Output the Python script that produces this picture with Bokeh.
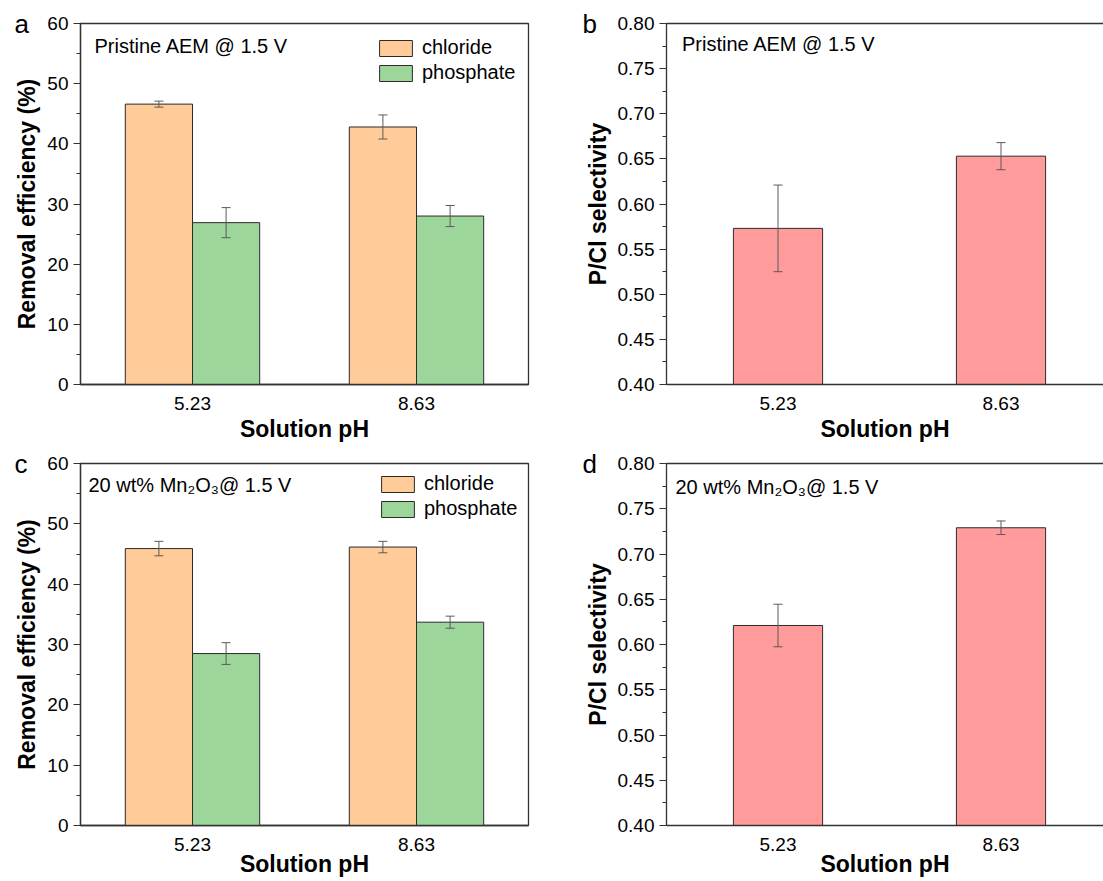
from bokeh.plotting import figure
from bokeh.models import (ColumnDataSource, Whisker, TeeHead, Label, Range1d, LinearAxis,
                          FixedTicker, SingleIntervalTicker, NumeralTickFormatter)
from bokeh.layouts import column, row
from bokeh.embed import file_html
from bokeh.resources import INLINE

# ---------------- data ----------------
categories = ["5.23", "8.63"]
series_names = ["chloride", "phosphate"]

a_chloride = [46.6, 42.8]
a_chloride_err = [0.5, 2.0]
a_phosphate = [26.9, 28.0]
a_phosphate_err = [2.5, 1.75]

b_selectivity = [0.573, 0.653]
b_selectivity_err = [0.048, 0.015]

c_chloride = [45.9, 46.15]
c_chloride_err = [1.2, 0.95]
c_phosphate = [28.5, 33.7]
c_phosphate_err = [1.8, 1.0]

d_selectivity = [0.621, 0.729]
d_selectivity_err = [0.0235, 0.0075]

note_top = "Pristine AEM @ 1.5 V"
note_bottom = "20 wt% Mn\u2082O\u2083@ 1.5 V"
xlabel = "Solution pH"

# ---------------- style ----------------
FONT = "Liberation Sans"
ORANGE = "#FFCC99"
GREEN = "#9CD69B"
PINK = "#FF9B9B"
EDGE = "#2b2b2b"
ERR = "#5a5a5a"
FRAME = "#333333"

centers = [i + 0.5 for i in range(len(categories))]


def style_axes(p, ylabel, interval, fmt=None, xlabel_standoff=3):
    p.xgrid.visible = False
    p.ygrid.visible = False
    xa = p.xaxis[0]
    xa.ticker = FixedTicker(ticks=centers)
    xa.major_label_overrides = {c: lab for c, lab in zip(centers, categories)}
    xa.major_tick_out = 0
    xa.major_tick_in = 0
    xa.minor_tick_out = 0
    xa.minor_tick_in = 0
    xa.major_label_standoff = 12
    xa.major_label_text_font = FONT
    xa.major_label_text_font_size = "19px"
    xa.major_label_text_color = "black"
    xa.axis_line_color = FRAME
    xa.axis_line_width = 1.3
    xa.axis_label = xlabel
    xa.axis_label_text_font = FONT
    xa.axis_label_text_font_size = "23px"
    xa.axis_label_text_font_style = "bold"
    xa.axis_label_text_color = "black"
    xa.axis_label_standoff = xlabel_standoff

    ya = p.yaxis[0]
    ya.ticker = SingleIntervalTicker(interval=interval, num_minor_ticks=2)
    if fmt:
        ya.formatter = NumeralTickFormatter(format=fmt)
    ya.major_tick_out = 7
    ya.major_tick_in = 0
    ya.minor_tick_out = 4
    ya.minor_tick_in = 0
    ya.major_tick_line_color = FRAME
    ya.minor_tick_line_color = FRAME
    ya.major_label_standoff = 5
    ya.major_label_text_font = FONT
    ya.major_label_text_font_size = "19px"
    ya.major_label_text_color = "black"
    ya.axis_label = ylabel
    ya.axis_label_text_font = FONT
    ya.axis_label_text_font_size = "23px"
    ya.axis_label_text_font_style = "bold"
    ya.axis_label_text_color = "black"
    ya.axis_label_standoff = 4
    ya.axis_line_color = FRAME
    ya.axis_line_width = 1.3


def set_letter(p, letter, offset):
    t = p.title
    t.text = letter
    t.align = "left"
    t.offset = offset
    t.vertical_align = "bottom"
    t.text_font = FONT
    t.text_font_size = "26px"
    t.text_font_style = "normal"
    t.text_color = "black"
    try:
        t.standoff = -31
    except Exception:
        t.standoff = 0


def add_text(p, text, x, y, size):
    p.add_layout(Label(x=x, y=y, x_units="screen", y_units="screen", text=text,
                       text_font=FONT, text_font_size=size,
                       text_align="left", text_baseline="alphabetic",
                       text_color="black"))


def add_err(p, xs, vals, errs):
    src = ColumnDataSource(dict(x=xs,
                                upper=[v + e for v, e in zip(vals, errs)],
                                lower=[v - e for v, e in zip(vals, errs)]))
    w = Whisker(base="x", upper="upper", lower="lower", source=src,
                line_color=ERR, line_width=1, level="overlay",
                upper_head=TeeHead(size=9, line_color=ERR, line_width=1),
                lower_head=TeeHead(size=9, line_color=ERR, line_width=1))
    p.add_layout(w)


def removal_panel(chl, chl_err, pho, pho_err, note, letter, height, top, bottom,
                  legend_xy, note_x, note_y, xl_standoff):
    p = figure(width=560, height=height, x_range=Range1d(0, 2), y_range=Range1d(0, 60),
               output_backend="svg", toolbar_location=None,
               min_border_left=80, min_border_right=32, min_border_top=top,
               min_border_bottom=bottom)
    p.outline_line_color = FRAME
    p.outline_line_width = 1.3
    style_axes(p, "Removal efficiency (%)", 10, xlabel_standoff=xl_standoff)
    xs_c = [c - 0.15 for c in centers]
    xs_p = [c + 0.15 for c in centers]
    p.vbar(x=xs_c, top=chl, bottom=0, width=0.3, fill_color=ORANGE,
           line_color=EDGE, line_width=1, legend_label=series_names[0])
    p.vbar(x=xs_p, top=pho, bottom=0, width=0.3, fill_color=GREEN,
           line_color=EDGE, line_width=1, legend_label=series_names[1])
    add_err(p, xs_c, chl, chl_err)
    add_err(p, xs_p, pho, pho_err)
    lg = p.legend[0]
    lg.location = legend_xy
    lg.margin = 0
    lg.padding = 0
    lg.spacing = 2
    lg.glyph_width = 41
    lg.glyph_height = 20
    lg.label_standoff = 6
    lg.label_text_font = FONT
    lg.label_text_font_size = "20px"
    lg.label_text_color = "black"
    lg.border_line_color = None
    lg.background_fill_alpha = 0
    add_text(p, note, note_x, note_y, "20px")
    set_letter(p, letter, -66)
    return p


def selectivity_panel(vals, errs, note, letter, height, top, bottom, note_x, note_y,
                      xl_standoff):
    fw = 437
    p = figure(width=106 + fw, height=height, x_range=Range1d(0, fw / 223.0),
               y_range=Range1d(0.4, 0.8),
               output_backend="svg", toolbar_location=None,
               min_border_left=106, min_border_right=0, min_border_top=top,
               min_border_bottom=bottom)
    p.outline_line_color = None
    style_axes(p, "P/Cl selectivity", 0.05, "0.00", xlabel_standoff=xl_standoff)
    top_ax = LinearAxis(ticker=FixedTicker(ticks=[]), major_tick_out=0, major_tick_in=0,
                        minor_tick_out=0, minor_tick_in=0, major_label_text_font_size="0px",
                        major_label_standoff=0, axis_label_standoff=0,
                        axis_line_color=FRAME, axis_line_width=1.3)
    p.add_layout(top_ax, "above")
    p.vbar(x=centers, top=vals, bottom=0.4, width=0.4, fill_color=PINK,
           line_color=EDGE, line_width=1)
    add_err(p, centers, vals, errs)
    add_text(p, note, note_x, note_y, "20px")
    set_letter(p, letter, -84)
    return p


pa = removal_panel(a_chloride, a_chloride_err, a_phosphate, a_phosphate_err, note_top, "a",
                   448, 23, 64, (295, 300), 14, 339, 3)
pb = selectivity_panel(b_selectivity, b_selectivity_err, note_top, "b", 448, 23, 64,
                       15.5, 341, 3)
pc = removal_panel(c_chloride, c_chloride_err, c_phosphate, c_phosphate_err, note_bottom, "c",
                   433, 15, 56, (297, 305), 8, 341, -3)
pd = selectivity_panel(d_selectivity, d_selectivity_err, note_bottom, "d", 433, 15, 56,
                       9, 339, -3)

layout = column(row(pa, pb), row(pc, pd))

with open("out.html", "w") as f:
    f.write(file_html(layout, INLINE))
